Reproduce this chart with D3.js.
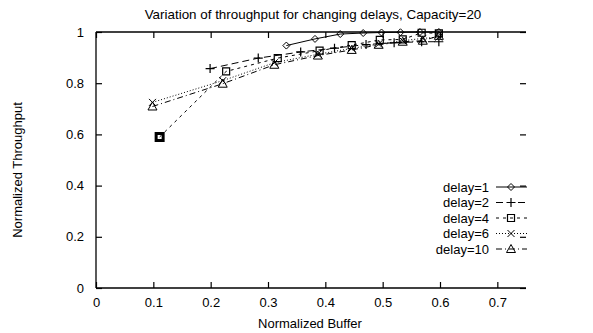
<!DOCTYPE html>
<html>
<head>
<meta charset="utf-8">
<script src="https://cdn.jsdelivr.net/npm/d3@7"></script>
<style>
  body { margin: 0; background: #fff; }
  svg { display: block; font-family: "Liberation Sans", Arial, sans-serif; }
  .tick text { font-size: 13px; fill: #000; }
</style>
</head>
<body>
<div id="chart"></div>
<script>
// values
var title = 'Variation of throughput for changing delays, Capacity=20'
var xTicks = [0, 0.1, 0.2, 0.3, 0.4, 0.5, 0.6, 0.7]
var yTicks = [0, 0.2, 0.4, 0.6, 0.8, 1]

var d1x = [0.332, 0.382, 0.426, 0.466, 0.498, 0.531, 0.565, 0.598]
var d1y = [0.947, 0.973, 0.992, 0.996, 0.998, 0.999, 1.0, 1.0]
var d2x = [0.199, 0.283, 0.357, 0.416, 0.471, 0.52, 0.568, 0.598]
var d2y = [0.857, 0.898, 0.922, 0.937, 0.951, 0.958, 0.962, 0.962]
var d4x = [0.111, 0.227, 0.317, 0.39, 0.446, 0.495, 0.535, 0.568, 0.598]
var d4y = [0.59, 0.846, 0.898, 0.927, 0.949, 0.969, 0.971, 0.997, 0.995]
var d6x = [0.0985, 0.221, 0.311, 0.387, 0.446, 0.493, 0.535, 0.57, 0.598]
var d6y = [0.725, 0.81, 0.88, 0.913, 0.936, 0.953, 0.966, 0.975, 0.98]
var d10x = [0.0985, 0.221, 0.311, 0.387, 0.446, 0.493, 0.535, 0.57, 0.598]
var d10y = [0.709, 0.798, 0.872, 0.908, 0.93, 0.95, 0.962, 0.966, 0.985]

var series = [
  {name: 'delay=1', xs: d1x, ys: d1y, mark: 'diamond', dash: null},
  {name: 'delay=2', xs: d2x, ys: d2y, mark: 'plus', dash: '7,4'},
  {name: 'delay=4', xs: d4x, ys: d4y, mark: 'square', dash: '3,4'},
  {name: 'delay=6', xs: d6x, ys: d6y, mark: 'cross', dash: '1,2'},
  {name: 'delay=10', xs: d10x, ys: d10y, mark: 'triangle', dash: '6,3,1,3'}
]

var W = 593, H = 333
var svg = d3.select('#chart').append('svg')
  .attr('width', W).attr('height', H)

var x = d3.scaleLinear().domain([0, 0.75]).range([96, 526])
var y = d3.scaleLinear().domain([0, 1]).range([288, 32])

// frame: left, bottom and top lines; the scan lost the right edge, only its ticks show
var frame = svg.append('g').attr('stroke', '#000').attr('stroke-width', 1.3)
frame.append('line').attr('x1', x(0)).attr('x2', x(0)).attr('y1', y(0)).attr('y2', y(1))
frame.append('line').attr('x1', x(0)).attr('x2', x(0.75)).attr('y1', y(0)).attr('y2', y(0))
frame.append('line').attr('x1', x(0)).attr('x2', x(0.75)).attr('y1', y(1)).attr('y2', y(1))

var fmt = function(d){ return String(d) }

svg.append('g')
  .attr('transform', 'translate(0,' + y(0) + ')')
  .call(d3.axisBottom(x).tickValues(xTicks).tickFormat(fmt).tickSize(-6).tickPadding(10))
svg.append('g')
  .attr('transform', 'translate(0,' + y(1) + ')')
  .call(d3.axisTop(x).tickValues(xTicks).tickFormat('').tickSize(-6))
svg.append('g')
  .attr('transform', 'translate(' + x(0) + ',0)')
  .call(d3.axisLeft(y).tickValues(yTicks).tickFormat(fmt).tickSize(-6).tickPadding(12))
svg.append('g')
  .attr('transform', 'translate(' + x(0.75) + ',0)')
  .call(d3.axisRight(y).tickValues(yTicks).tickFormat('').tickSize(-6))
svg.selectAll('.domain').remove()
svg.selectAll('.tick line').attr('stroke', '#000').attr('stroke-width', 1.2)

// titles
svg.append('text')
  .attr('x', 313).attr('y', 19)
  .attr('text-anchor', 'middle').attr('font-size', 13.4)
  .text(title)
svg.append('text')
  .attr('x', 310).attr('y', 328)
  .attr('text-anchor', 'middle').attr('font-size', 13)
  .text('Normalized Buffer')
svg.append('text')
  .attr('transform', 'translate(22,170) rotate(-90)')
  .attr('text-anchor', 'middle').attr('font-size', 13)
  .text('Normalized Throughput')

// marker shapes
function marker(g, kind, cx, cy){
  var s = 3.5
  var p = g.append('path')
    .attr('fill', 'none').attr('stroke', '#000').attr('stroke-width', 1)
  if(kind == 'diamond')
    p.attr('d', 'M' + (cx - s) + ',' + cy + 'L' + cx + ',' + (cy - s) +
      'L' + (cx + s) + ',' + cy + 'L' + cx + ',' + (cy + s) + 'Z')
  else if(kind == 'plus')
    p.attr('d', 'M' + (cx - s - 1) + ',' + cy + 'H' + (cx + s + 1) +
      'M' + cx + ',' + (cy - s - 1) + 'V' + (cy + s + 1)).attr('stroke-width', 1.2)
  else if(kind == 'square')
    p.attr('d', 'M' + (cx - s) + ',' + (cy - s) + 'h' + (2 * s) + 'v' + (2 * s) +
      'h' + (-2 * s) + 'Z').attr('stroke-width', 1.2)
  else if(kind == 'cross')
    p.attr('d', 'M' + (cx - s) + ',' + (cy - s) + 'L' + (cx + s) + ',' + (cy + s) +
      'M' + (cx + s) + ',' + (cy - s) + 'L' + (cx - s) + ',' + (cy + s))
  else if(kind == 'triangle')
    p.attr('d', 'M' + cx + ',' + (cy - s - 1) + 'L' + (cx + s + 1) + ',' + (cy + s) +
      'L' + (cx - s - 1) + ',' + (cy + s) + 'Z')
  return p
}

var line = d3.line().x(function(d){ return x(d[0]) }).y(function(d){ return y(d[1]) })

var plot = svg.append('g')
series.forEach(function(s){
  var pts = d3.zip(s.xs, s.ys)
  plot.append('path')
    .attr('d', line(pts))
    .attr('fill', 'none').attr('stroke', '#000').attr('stroke-width', 1)
    .attr('stroke-dasharray', s.dash)
  var mg = plot.append('g')
  pts.forEach(function(p, i){
    var m = marker(mg, s.mark, x(p[0]), y(p[1]))
    // the lowest delay=4 point is printed heavy in the scan
    if(s.name == 'delay=4' && i == 0) m.attr('stroke-width', 3)
  })
})

// legend
var legend = svg.append('g')
series.forEach(function(s, i){
  var ly = 187 + i * 15.5
  legend.append('text')
    .attr('x', 489).attr('y', ly + 4.5)
    .attr('text-anchor', 'end').attr('font-size', 13)
    .text(s.name)
  legend.append('line')
    .attr('x1', 496).attr('x2', 527).attr('y1', ly).attr('y2', ly)
    .attr('stroke', '#000').attr('stroke-width', 1)
    .attr('stroke-dasharray', s.dash)
  marker(legend, s.mark, 511, ly)
})
</script>
</body>
</html>
